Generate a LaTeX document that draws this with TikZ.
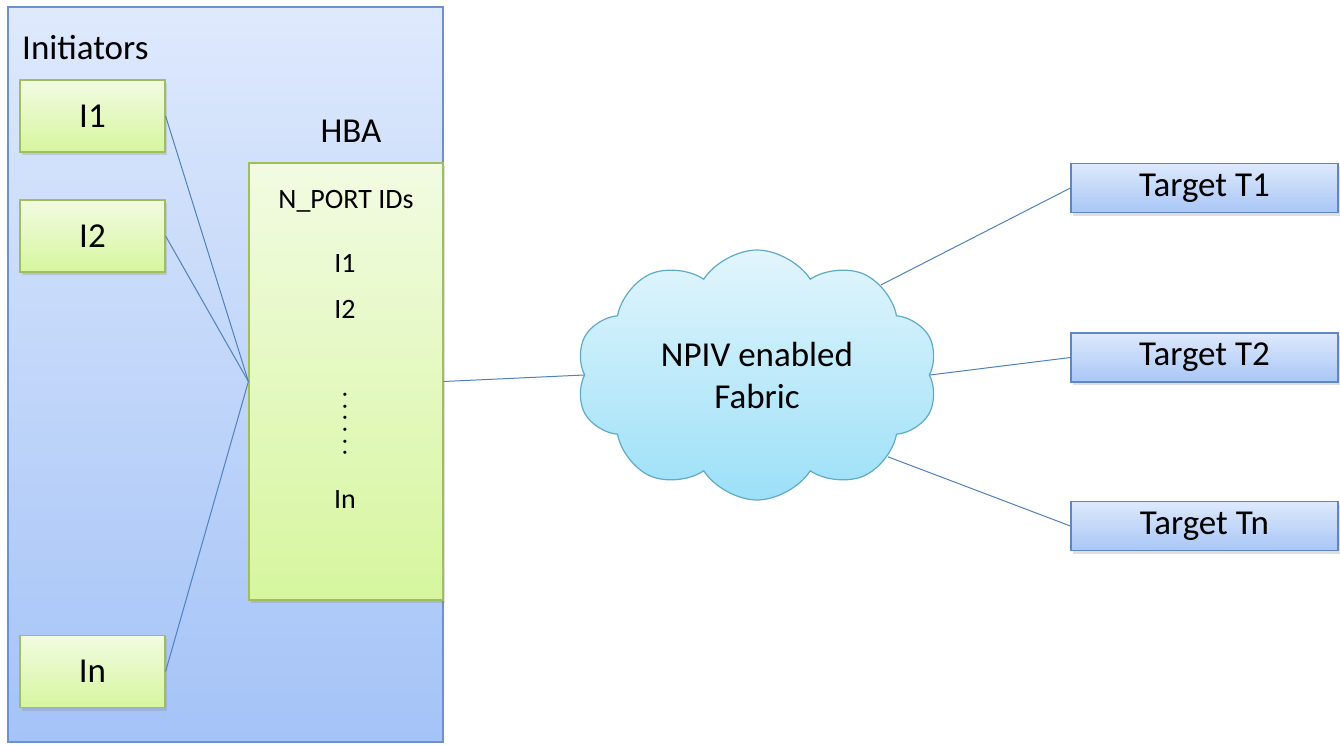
\documentclass[tikz,border=0pt]{standalone}
\usepackage{fontspec}
\setmainfont{Carlito}
\usetikzlibrary{shapes.symbols,shadows}
\definecolor{outtop}{RGB}{222,233,252}
\definecolor{outbot}{RGB}{164,195,247}
\definecolor{outline}{RGB}{110,145,205}
\definecolor{grtop}{RGB}{242,251,226}
\definecolor{grbot}{RGB}{214,246,158}
\definecolor{grline}{RGB}{160,190,95}
\definecolor{tgtop}{RGB}{222,233,252}
\definecolor{tgbot}{RGB}{168,198,246}
\definecolor{tgline}{RGB}{95,135,200}
\definecolor{cltop}{RGB}{226,245,252}
\definecolor{clbot}{RGB}{156,224,248}
\definecolor{clline}{RGB}{95,170,200}
\definecolor{conn}{RGB}{79,129,189}
\tikzset{
  greenbox/.style={draw=grline, line width=1.2pt, top color=grtop, bottom color=grbot, inner sep=0pt,
    drop shadow={shadow xshift=2pt, shadow yshift=-3pt, opacity=0.25}},
  targetbox/.style={draw=tgline, line width=1.2pt, top color=tgtop, bottom color=tgbot, inner sep=0pt,
    minimum width=267pt, minimum height=49pt, font=\fontsize{35}{38}\selectfont,
    drop shadow={shadow xshift=2pt, shadow yshift=-3pt, opacity=0.25}},
  conline/.style={draw=conn, line width=1pt},
  lbl/.style={inner sep=0pt, font=\fontsize{35}{38}\selectfont},
  small/.style={inner sep=0pt, font=\fontsize{28}{30}\selectfont},
}
\begin{document}
\begin{tikzpicture}[x=1pt,y=-1pt]
\useasboundingbox (0,0) rectangle (1340,744);
% outer box
\node[draw=outline, line width=1.2pt, top color=outtop, bottom color=outbot, inner sep=0pt,
  minimum width=435pt, minimum height=735pt] (outer) at (225.5,374.5) {};
\node[lbl, anchor=west] (initlbl) at (22,48) {Initiators};
% initiators
\node[greenbox, minimum width=145pt, minimum height=72pt, font=\fontsize{35}{38}\selectfont] (i1) at (92.5,116) {I1};
\node[greenbox, minimum width=145pt, minimum height=72pt, font=\fontsize{35}{38}\selectfont] (i2) at (92.5,236) {I2};
\node[greenbox, minimum width=145pt, minimum height=72pt, font=\fontsize{35}{38}\selectfont] (in) at (92.5,671.5) {In};
% HBA
\node[lbl] (hbalbl) at (351,131) {HBA};
\node[greenbox, minimum width=194pt, minimum height=437pt] (hba) at (346,381.5) {};
\node[small] (nport) at (346,201) {N\_PORT IDs};
\node[small] (hi1) at (345,263) {I1};
\node[small] (hi2) at (345,309) {I2};
\node[inner sep=0pt, rotate=-90, font=\fontsize{26}{28}\selectfont] (dots) at (345,424)
  {.\kern5pt.\kern5pt.\kern5pt.\kern5pt.\kern5pt.};
\node[small] (hin) at (345,500) {In};
% cloud
\node[cloud, cloud puffs=10, cloud puff arc=115, aspect=1.45, draw=clline, line width=1.2pt,
  top color=cltop, bottom color=clbot, minimum width=362pt, minimum height=250pt, inner sep=0pt,
  align=center, font=\fontsize{35}{42}\selectfont] (fabric) at (757,375) {NPIV enabled\\Fabric};
% targets
\node[targetbox] (t1) at (1204.5,188) {Target T1};
\node[targetbox] (t2) at (1204.5,357.5) {Target T2};
\node[targetbox] (tn) at (1204.5,526) {Target Tn};
% connectors
\draw[conline] (i1.east) -- (hba.west);
\draw[conline] (i2.east) -- (hba.west);
\draw[conline] (in.east) -- (hba.west);
\draw[conline] (hba.east) -- (fabric.west);
\draw[conline] (fabric.36) -- (t1.west);
\draw[conline] (fabric.east) -- (t2.west);
\draw[conline] (fabric.-32) -- (tn.west);
\end{tikzpicture}
\end{document}
